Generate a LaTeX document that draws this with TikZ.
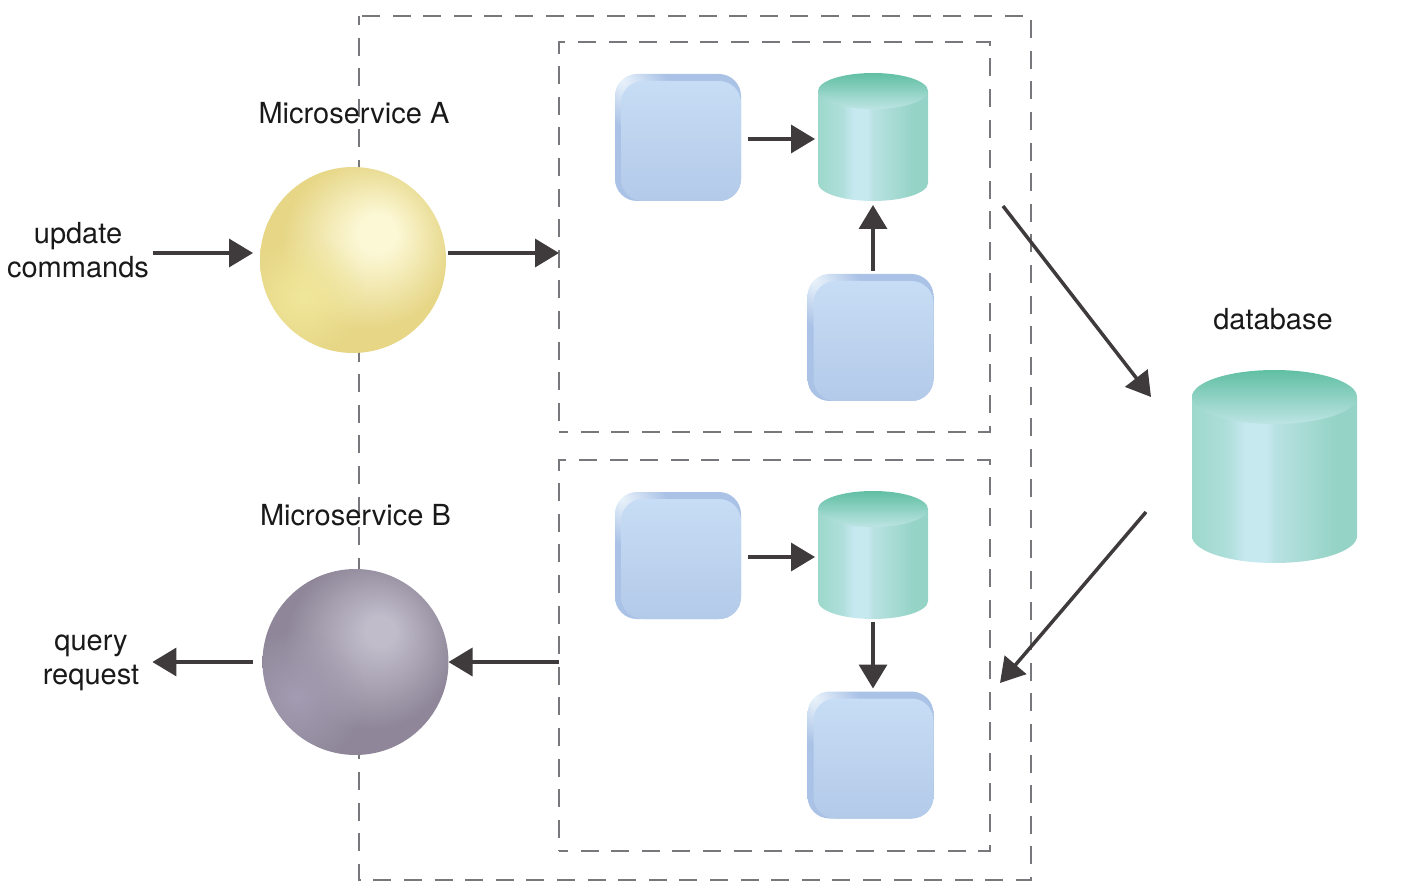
\documentclass[tikz,border=0pt]{standalone}
\usepackage{fontspec}
\setmainfont{TeX Gyre Heros}
\usetikzlibrary{arrows.meta,fadings}

\definecolor{flowgray}{HTML}{3F3B3C}
\definecolor{dashgray}{HTML}{77787B}
\definecolor{faceblue}{HTML}{C7DDF5}
\definecolor{facemid}{HTML}{C1D7F1}
\definecolor{facedeep}{HTML}{B3CAE9}
\definecolor{edgeblue}{HTML}{A9C2E6}
\definecolor{edgeglow}{HTML}{EAF3FB}
\definecolor{drumleft}{HTML}{9DD8CB}
\definecolor{drumsoft}{HTML}{AFDFDB}
\definecolor{drumlight}{HTML}{C6E8EF}
\definecolor{drumfall}{HTML}{B9E2E2}
\definecolor{drumright}{HTML}{94D3C5}
\definecolor{drumtop}{HTML}{60BFA3}
\definecolor{drumlid}{HTML}{BDE4E3}
\definecolor{sandbase}{HTML}{E6D686}
\definecolor{sandlight}{HTML}{FCF8D6}
\definecolor{sandsoft}{HTML}{F1E79A}
\definecolor{plumbase}{HTML}{8F8799}
\definecolor{plumlight}{HTML}{C0BCCA}
\definecolor{plumsoft}{HTML}{A49CB2}

\pgfdeclarehorizontalshading{drumside}{100bp}{color(0bp)=(drumleft); color(25bp)=(drumleft); color(36bp)=(drumsoft); color(41bp)=(drumlight); color(47.5bp)=(drumlight); color(50bp)=(drumfall); color(69bp)=(drumright); color(100bp)=(drumright)}
\pgfdeclareradialshading{cubeedge}{\pgfpoint{-23bp}{23bp}}{color(0bp)=(edgeglow); color(14bp)=(edgeblue); color(50bp)=(edgeblue)}
\pgfdeclareradialshading{sandball}{\pgfpoint{7.3bp}{8bp}}{color(0bp)=(sandlight); color(5bp)=(sandlight); color(23bp)=(sandbase); color(50bp)=(sandbase)}
\pgfdeclareradialshading{plumball}{\pgfpoint{7.3bp}{9bp}}{color(0bp)=(plumlight); color(4bp)=(plumlight); color(23bp)=(plumbase); color(50bp)=(plumbase)}
\tikzfading[name=glowout, inner color=transparent!0, outer color=transparent!100]

\tikzset{
	flow/.style={draw=flowgray, line width=3.5pt, -{Triangle[length=24pt, width=28pt]}},
	zone/.style={draw=dashgray, line width=1.5pt, dash pattern=on 18pt off 12.6pt, dash phase=9pt, inner sep=0pt, outer sep=0pt},
	caption/.style={font=\fontsize{29}{34}\selectfont, text=black!90, align=center, inner sep=0pt},
	face/.style={rectangle, rounded corners=22pt, top color=faceblue, middle color=facemid, bottom color=facedeep, minimum width=120pt, minimum height=120pt, inner sep=0pt, outer sep=0pt},
	drumbox/.style={rectangle, inner sep=0pt, outer sep=0pt},
	ball/.style={circle, minimum size=186pt, inner sep=0pt, outer sep=0pt}
}

% cube: name, left, top
\newcommand{\cubebox}[3]{
	\shade[shading=cubeedge, rounded corners=22pt] (#2,#3) rectangle (#2+126,#3+127);
	\node[face] (#1) at (#2+66,#3+67) {};
}

% drum: name, centre x, top, bottom, half width, lid radius
\newcommand{\drumcan}[6]{
	\shade[shading=drumside] (#2-#5,#3+#6) -- (#2-#5,#4-#6) arc[start angle=180, end angle=360, x radius=#5pt, y radius=#6pt] -- (#2+#5,#3+#6) -- cycle;
	\shade[top color=drumtop, bottom color=drumlid] (#2,#3+#6) ellipse[x radius=#5pt, y radius=#6pt];
	\node[drumbox, minimum width=2*#5pt, minimum height=#4pt-#3pt] (#1) at (#2,#3/2+#4/2) {};
}

\begin{document}
\begin{tikzpicture}[x=1pt, y=-1pt]
	\useasboundingbox (0,0) rectangle (1422,890);

	\draw[zone] (359,16) rectangle (1031,880);
	\node[zone, minimum width=431pt, minimum height=390pt] (zoneA) at (774.5,237) {};
	\node[zone, minimum width=431pt, minimum height=391pt] (zoneB) at (774.5,655.5) {};

	\node[ball, shading=sandball] (ballA) at (353,260) {};
	\node[ball, shading=plumball] (ballB) at (355.5,662) {};
	\begin{scope}
		\clip (ballA.center) circle[radius=93pt];
		\fill[sandsoft, path fading=glowout] (303,297) circle[radius=62pt];
	\end{scope}
	\begin{scope}
		\clip (ballB.center) circle[radius=93pt];
		\fill[plumsoft, path fading=glowout] (297,697) circle[radius=68pt];
	\end{scope}

	\cubebox{cubeA}{615}{74}
	\cubebox{cubeC}{807.5}{274}
	\cubebox{cubeB}{615}{492}
	\cubebox{cubeD}{807.5}{691.5}

	\drumcan{drumA}{873}{73}{201}{55}{18}
	\drumcan{drumB}{873}{491}{619}{55}{18}
	\drumcan{store}{1274.5}{370}{563}{82.5}{27}

	\node[caption] (titleA) at (354,113) {Microservice A};
	\node[caption] (titleB) at (355.5,515) {Microservice B};
	\node[caption] (update) at (78,250) {update\\commands};
	\node[caption] (query) at (91,663) {query\\request};
	\node[caption] (storeTitle) at (1273,319) {database};

	\coordinate (laneA) at (0,253);
	\coordinate (laneB) at (0,662);
	\coordinate (toStoreA) at (1003,206);
	\coordinate (toStoreB) at (1151,397);
	\coordinate (fromStoreA) at (1146,512);
	\coordinate (fromStoreB) at (1000,683);

	\draw[flow, shorten <=4pt, shorten >=7pt] (update.east |- laneA) -- (ballA.west |- laneA);
	\draw[flow, shorten <=2pt] (ballA.east |- laneA) -- (zoneA.west |- laneA);
	\draw[flow, shorten <=7pt, shorten >=3pt] ([yshift=2pt]cubeA.east) -- ([yshift=2pt]cubeA.east -| drumA.west);
	\draw[flow, shorten <=10pt, shorten >=4pt] (drumA.south |- cubeC.north) -- (drumA.south);
	\draw[flow, shorten <=7pt, shorten >=3pt] ([yshift=2pt]cubeB.east) -- ([yshift=2pt]cubeB.east -| drumB.west);
	\draw[flow, shorten <=3pt, shorten >=10pt] (drumB.south) -- (drumB.south |- cubeD.north);
	\draw[flow] (zoneB.west |- laneB) -- (ballB.east |- laneB);
	\draw[flow, shorten <=10pt, shorten >=13pt] (ballB.west |- laneB) -- (query.east |- laneB);
	\draw[flow] (toStoreA) -- (toStoreB);
	\draw[flow] (fromStoreA) -- (fromStoreB);
\end{tikzpicture}
\end{document}
